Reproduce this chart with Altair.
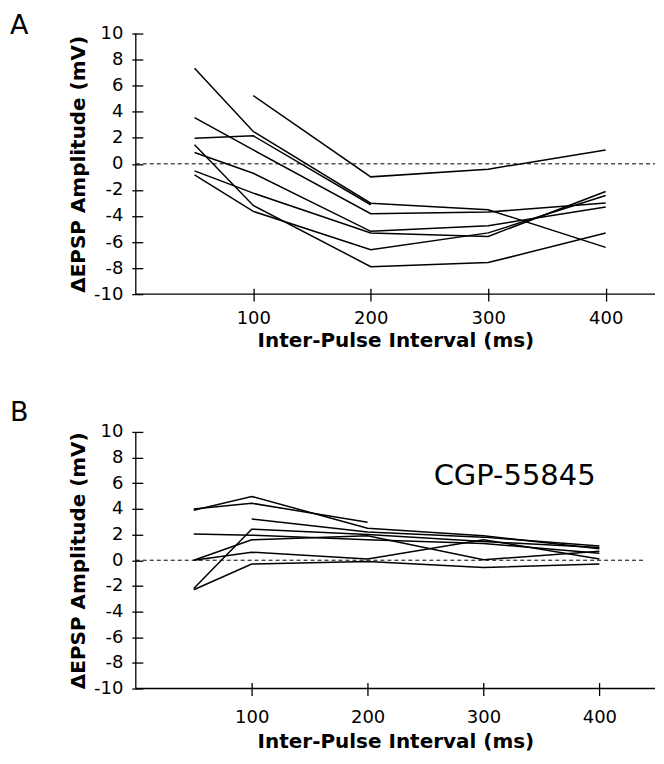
import altair as alt
import pandas as pd

# Inter-pulse intervals (ms)
intervals = [50, 100, 200, 300, 400]

# Panel A: individual cells (mV); None = not recorded
a1 = [7.33, 2.48, -3.02, -3.52, -6.41]
a2 = [None, 5.24, -1.00, -0.41, 1.07]
a3 = [1.97, 2.15, -3.14, None, None]
a4 = [3.55, 1.07, -3.83, -3.70, -3.01]
a5 = [0.87, -0.72, -5.18, -4.75, -3.32]
a6 = [-0.54, -2.25, -5.31, -5.57, -2.12]
a7 = [-0.84, -3.65, -6.59, -5.30, -2.43]
a8 = [1.46, -3.19, -7.89, -7.58, -5.31]

# Panel B: CGP-55845
b1 = [3.90, 4.97, 2.50, 1.90, 0.90]
b2 = [4.00, 4.44, 2.96, None, None]
b3 = [None, 3.22, 2.20, 1.80, 1.10]
b4 = [2.05, 1.95, 1.60, 1.30, 0.55]
b5 = [-2.20, 2.42, 2.00, 1.45, 1.00]
b6 = [0.00, 1.59, 1.90, 0.03, 0.70]
b7 = [0.00, 0.63, 0.10, 1.60, 0.10]
b8 = [-2.30, -0.30, -0.10, -0.57, -0.30]

y_ticks = [-10, -8, -6, -4, -2, 0, 2, 4, 6, 8, 10]
x_ticks = [100, 200, 300, 400]

FONT = "DejaVu Sans"


def to_frame(series):
    rows = []
    for name, vals in series.items():
        for x, v in zip(intervals, vals):
            if v is not None:
                rows.append({"series": name, "interval": x, "amp": v})
    return pd.DataFrame(rows)


def panel(series, letter, title_dy, xmax, zero_end, width, height,
          x_label_pad, x_title_pad, note=None):
    df = to_frame(series)

    def xenc():
        return alt.X(
            "interval:Q", scale=alt.Scale(domain=[0, xmax], nice=False, zero=False),
            axis=alt.Axis(values=x_ticks, title="Inter-Pulse Interval (ms)",
                          domain=False, grid=False, tickSize=13, offset=-6,
                          labelPadding=x_label_pad, titlePadding=x_title_pad,
                          labelOverlap=False),
        )

    def yenc():
        return alt.Y(
            "amp:Q", scale=alt.Scale(domain=[-10, 10], nice=False),
            axis=alt.Axis(values=y_ticks, title="\u0394EPSP Amplitude (mV)",
                          domain=False, grid=False, tickSize=11, offset=-7,
                          labelPadding=9, titlePadding=5, labelOverlap=False,
                          labelFlush=False, labelExpr="'' + datum.value"),
        )

    lines = alt.Chart(df).mark_line(color="black", strokeWidth=1.5).encode(
        x=xenc(), y=yenc(), detail="series:N"
    )
    zero = alt.Chart(pd.DataFrame({"interval": [0], "end": [zero_end], "amp": [0]})).mark_rule(
        color="black", strokeWidth=1, strokeDash=[4, 3]
    ).encode(x=xenc(), x2="end:Q", y=yenc())
    yaxis_line = alt.Chart(pd.DataFrame({"interval": [0], "amp": [-10], "top": [10]})).mark_rule(
        color="black", strokeWidth=1.3
    ).encode(x=xenc(), y=yenc(), y2="top:Q")
    xaxis_line = alt.Chart(pd.DataFrame({"interval": [0], "end": [xmax], "amp": [-10]})).mark_rule(
        color="black", strokeWidth=1.3
    ).encode(x=xenc(), x2="end:Q", y=yenc())
    layers = [lines, zero, yaxis_line, xaxis_line]
    if note is not None:
        txt = alt.Chart(pd.DataFrame({"interval": [note[0]], "amp": [note[1]], "t": [note[2]]})).mark_text(
            align="left", baseline="alphabetic", fontSize=29, font=FONT, color="black"
        ).encode(x=xenc(), y=yenc(), text="t:N")
        layers.append(txt)
    return alt.layer(*layers).properties(
        width=width, height=height,
        title=alt.TitleParams(letter, anchor="start", frame="group", fontSize=27,
                              fontWeight="normal", font=FONT, color="black",
                              dx=-126, dy=title_dy, offset=2),
    )


pa = panel({"a1": a1, "a2": a2, "a3": a3, "a4": a4, "a5": a5, "a6": a6, "a7": a7, "a8": a8},
           "A", 17, 442, 442, 520, 261, 8, 3)
pb = panel({"b1": b1, "b2": b2, "b3": b3, "b4": b4, "b5": b5, "b6": b6, "b7": b7, "b8": b8},
           "B", 6, 448, 440, 520, 257, 13, 5, note=(257, 5.9, "CGP-55845"))

chart = alt.vconcat(pa, pb, spacing=49).properties(
    padding={"left": 2, "top": 3, "right": 0, "bottom": 0}
).configure_view(stroke=None).configure_axis(
    labelFont=FONT, labelFontSize=18, labelColor="black",
    titleFont=FONT, titleFontSize=20, titleFontWeight="bold", titleColor="black",
    tickColor="black", tickWidth=1.3,
)

chart.save("out.html", embed_options={"renderer": "svg", "actions": False})
